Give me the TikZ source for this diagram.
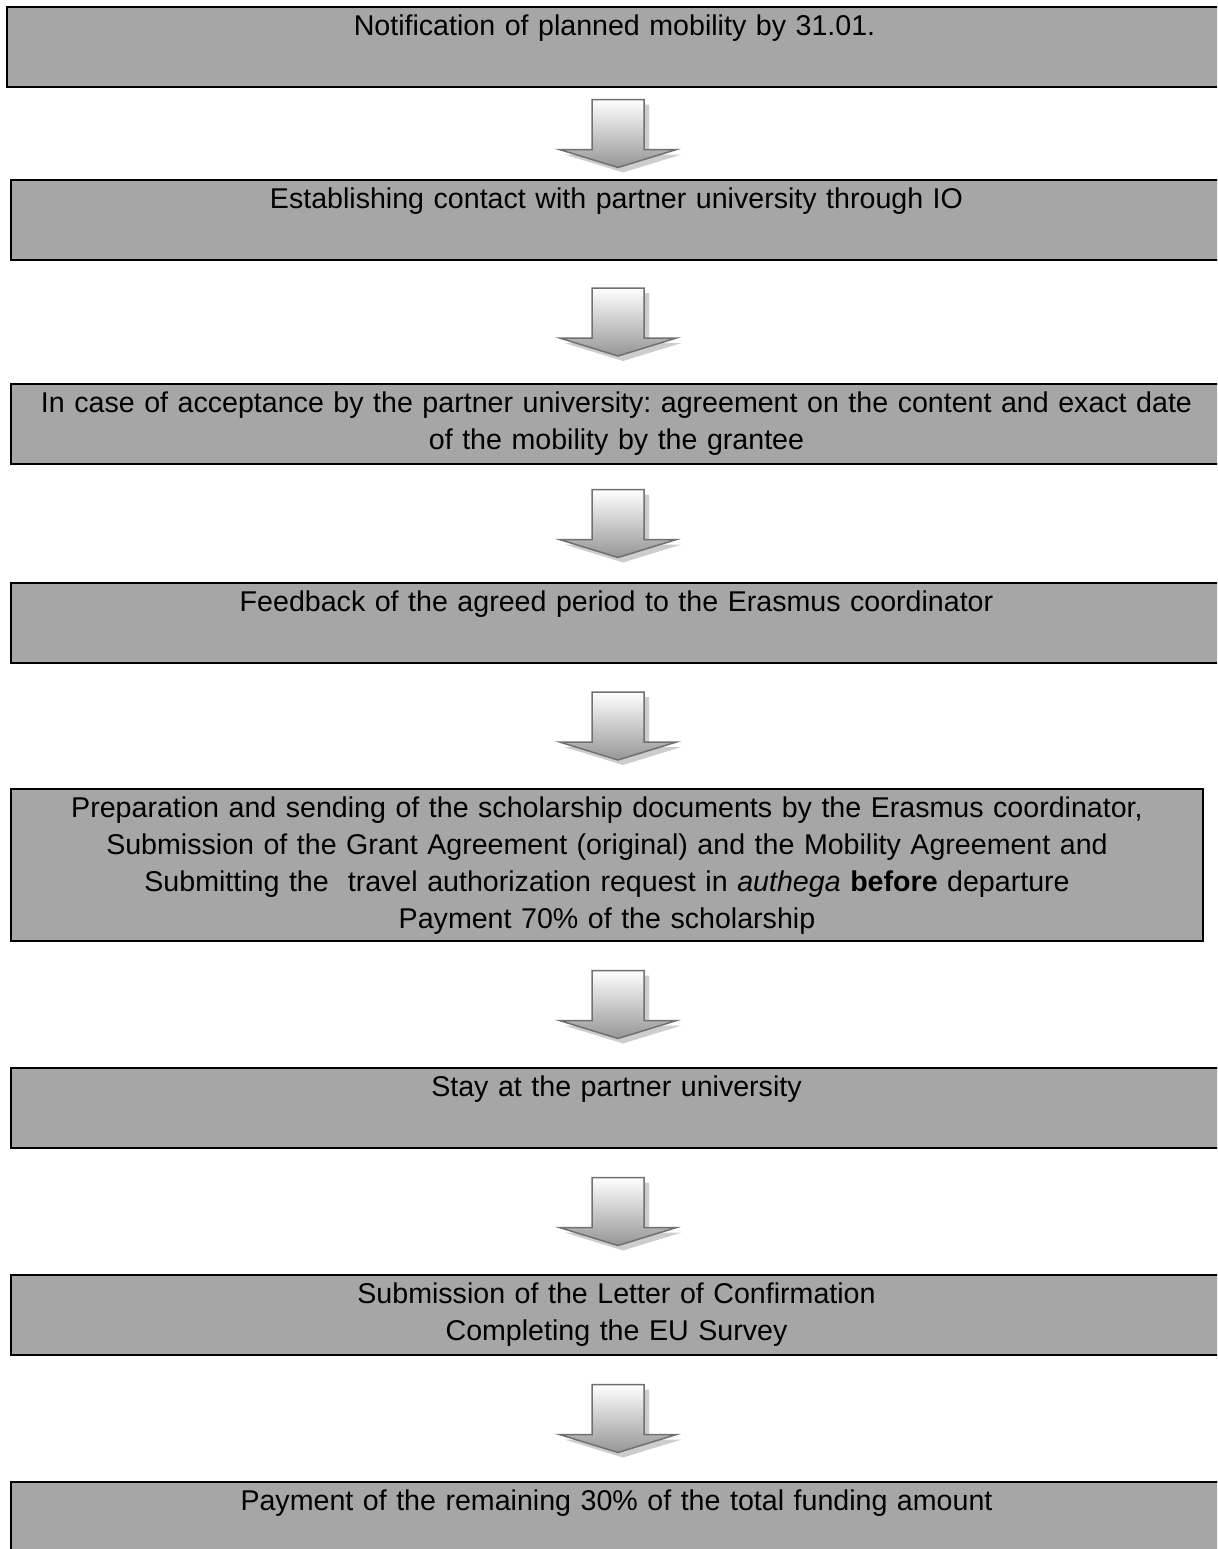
\documentclass[tikz,border=0pt]{standalone}
\usepackage{fontspec}
\setmainfont{Liberation Sans}
\usetikzlibrary{positioning,calc}
\definecolor{boxgray}{RGB}{166,166,166}
\definecolor{arrowline}{RGB}{112,112,112}
\definecolor{arrowdark}{RGB}{150,150,150}
\definecolor{arrowshadow}{RGB}{205,205,205}
\frenchspacing

% block arrow pointing down, centred on a coordinate
\newcommand{\flowarrow}[1]{%
  \begin{scope}[shift={(#1)}]
    \fill[arrowshadow, shift={(5,5)}] (-26,-34) -- (26,-34) -- (26,16) -- (58.5,16) -- (0,34) -- (-58.5,16) -- (-26,16) -- cycle;
    \shadedraw[draw=arrowline, line width=0.75pt, top color=white, bottom color=arrowdark] (-26,-34) -- (26,-34) -- (26,16) -- (58.5,16) -- (0,34) -- (-58.5,16) -- (-26,16) -- cycle;
  \end{scope}}

\begin{document}
\begin{tikzpicture}[
                x=0.5pt, y=-0.5pt,
                stepbox/.style={draw=black, line width=0.9pt, fill=boxgray, anchor=north west, align=center, outer sep=0pt,
                    inner xsep=2pt, inner ysep=4pt, text width=601.5pt, text height=10pt, text depth=22pt,
                    font=\fontsize{14.3pt}{18.5pt}\selectfont},
            ]
            \useasboundingbox (0,0) rectangle (1217,1549);
            \clip (0,0) rectangle (1217,1549);

            %Boxes
            \node[stepbox, line width=1.2pt, text width=603.5pt] (b1) at (7,7) {Notification of planned mobility by 31.01.};
            \node[stepbox]       (b2) at (11,180) {Establishing contact with partner university through IO};
            \node[stepbox]       (b3) [below=62pt of b2.south west, anchor=north west] {In case of acceptance by the partner university: agreement on the content and exact date\\ of the mobility by the grantee};
            \node[stepbox]       (b4) [below=59.5pt of b3.south west, anchor=north west] {Feedback of the agreed period to the Erasmus coordinator};
            \node[stepbox, text width=592pt, text depth=58pt] (b5) [below=63pt of b4.south west, anchor=north west] {Preparation and sending of the scholarship documents by the Erasmus coordinator,\\ Submission of the Grant Agreement (original) and the Mobility Agreement and\\ Submitting the\ \ travel authorization request in \textit{authega} \textbf{before} departure\\ Payment 70\% of the scholarship};
            \node[stepbox]       (b6) [below=63.5pt of b5.south west, anchor=north west] {Stay at the partner university};
            \node[stepbox]       (b7) [below=63.5pt of b6.south west, anchor=north west] {Submission of the Letter of Confirmation\\ Completing the EU Survey};
            \node[stepbox]       (b8) [below=63.5pt of b7.south west, anchor=north west] {Payment of the remaining 30\% of the total funding amount};

            %Arrows
            \foreach \i/\j in {1/2,2/3,3/4,4/5,5/6,6/7,7/8}{
                \coordinate (m\i) at ($(b\i.south)!0.5!(b\j.north)$);
                \coordinate (a\i) at ([xshift=0.75pt]b2.south |- m\i);
                \flowarrow{a\i}
            }
        \end{tikzpicture}
\end{document}
